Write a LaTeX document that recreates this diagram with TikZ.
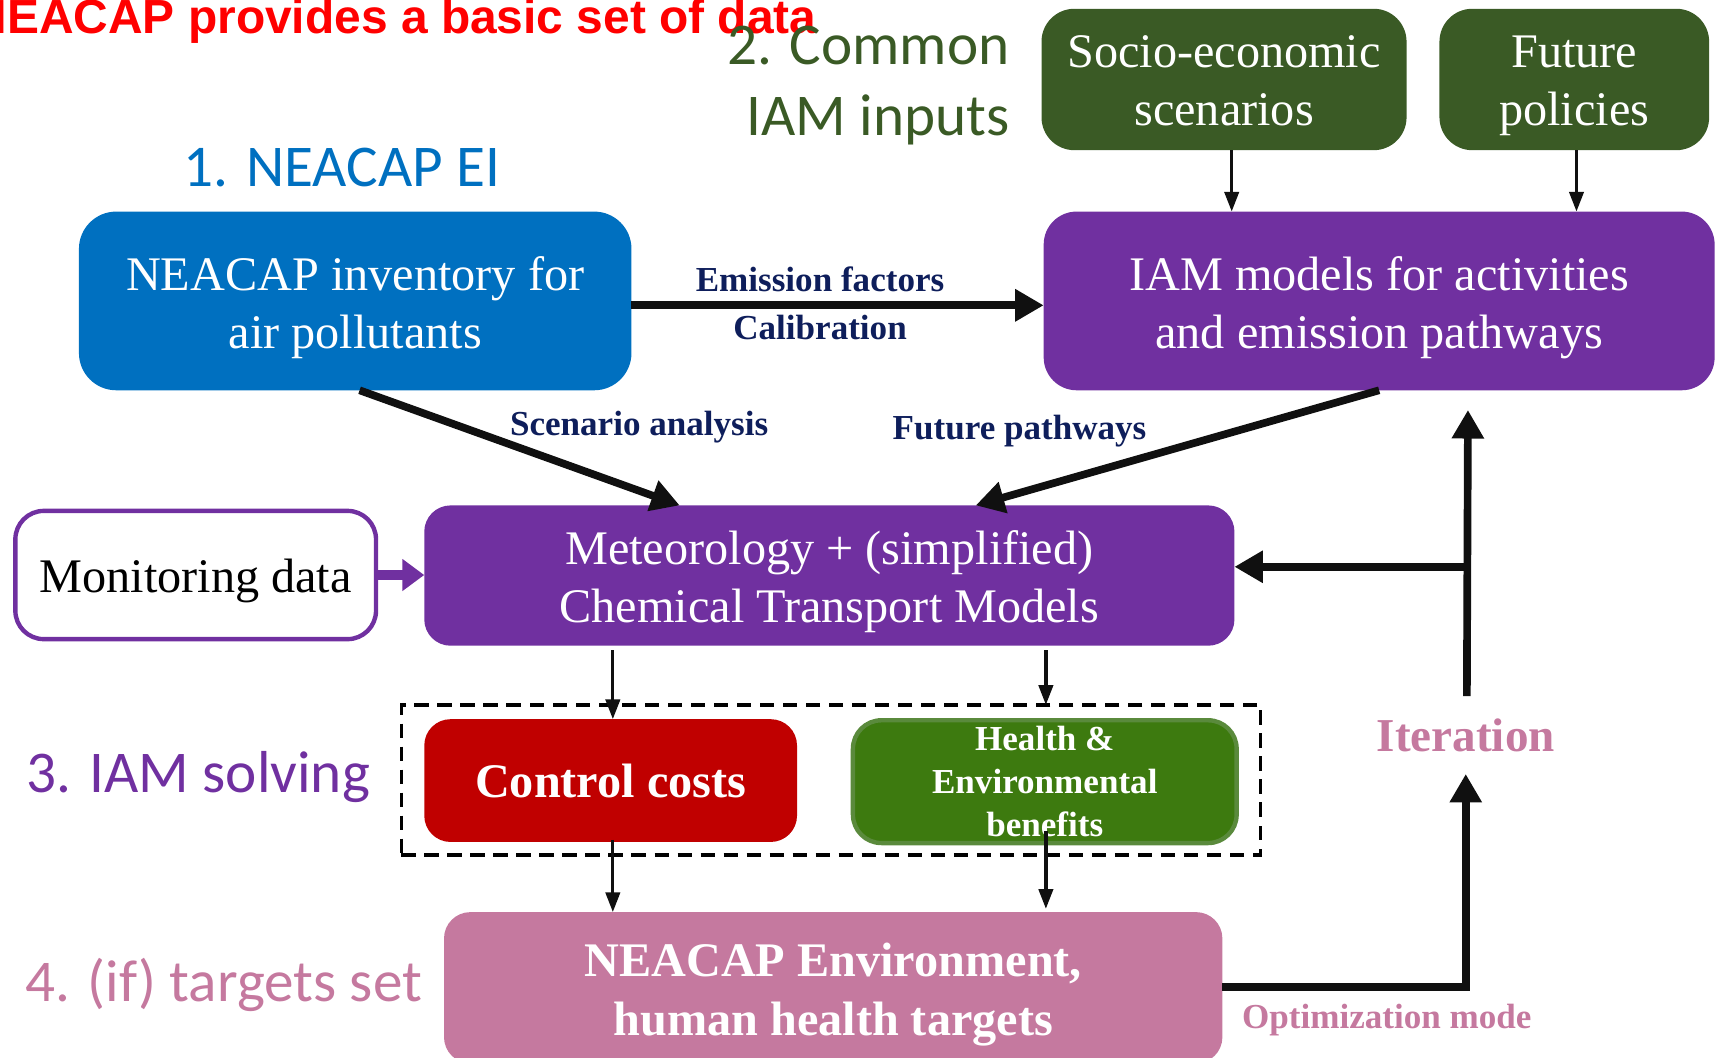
\documentclass[tikz,border=0pt]{standalone}
\usepackage{fontspec}
\setmainfont{Liberation Serif}
\newfontfamily\calfont{Carlito}
\newfontfamily\arialfont{Liberation Sans}
\usetikzlibrary{arrows.meta,calc}
\definecolor{iblue}{HTML}{0070C0}
\definecolor{ipurple}{HTML}{7030A0}
\definecolor{dgreen}{HTML}{3A5A25}
\definecolor{cred}{HTML}{C00000}
\definecolor{hgreen}{HTML}{3D7A0F}
\definecolor{hborder}{HTML}{5A8A3C}
\definecolor{ipink}{HTML}{C5799F}
\definecolor{navy}{HTML}{0E1E5B}
\definecolor{arrowblack}{HTML}{101010}
% box text set a little below the geometric centre of its box
\newcommand\lowtext[2][6pt]{\raisebox{-#1}[\height][\depth]{%
  \begin{tabular}{@{}c@{}}#2\end{tabular}}}
\begin{document}
\begin{tikzpicture}[x=1pt,y=-1pt,
  box/.style={fill=#1, rounded corners=26pt, inner sep=0pt, outer sep=0pt,
    align=center, text=white, font=\fontsize{44}{53}\selectfont},
  boldlabel/.style={text=navy, align=center, inner sep=0pt,
    font=\bfseries\fontsize{32}{44}\selectfont},
  steplabel/.style={inner sep=0pt, font=\calfont\fontsize{54}{65}\selectfont},
  bigarrow/.style={draw=arrowblack, line width=7pt,
    -{Triangle[length=26pt,width=28pt]}},
  smallarrow/.style={draw=arrowblack, line width=3pt,
    -{Triangle[length=18pt,width=13pt]}}]
\useasboundingbox (0,0) rectangle (1568,965);
\clip (0,0) rectangle (1568,965);

% headline
\node[anchor=base east, inner sep=0pt, text=red,
  font=\arialfont\bfseries\fontsize{43.7}{50}\selectfont] (title) at (745,31)
  {NEACAP provides a basic set of data};

% step labels
\node[steplabel, text=iblue] (s1) at (312,153) {1. NEACAP EI};
\node[steplabel, text=dgreen, align=right, anchor=east] (s2) at (921,78)
  {2. Common\\IAM inputs};
\node[steplabel, text=ipurple] (s3) at (181,709) {3. IAM solving};
\node[steplabel, text=ipink] (s4) at (204,898) {4. (if) targets set};

% boxes
\node[box=iblue, rounded corners=34pt, minimum width=504pt, minimum height=163pt]
  (inv) at (324,274.5) {\lowtext{NEACAP inventory for\\air pollutants}};
\node[box=ipurple, rounded corners=30pt, minimum width=612pt, minimum height=163pt]
  (iam) at (1258,274.5) {\lowtext{IAM models for activities\\and emission pathways}};
\node[box=dgreen, rounded corners=30pt, minimum width=333pt, minimum height=129pt]
  (socio) at (1116.5,72.5) {\lowtext[5pt]{Socio-economic\\scenarios}};
\node[box=dgreen, rounded corners=30pt, minimum width=246pt, minimum height=129pt]
  (fut) at (1436,72.5) {\lowtext[5pt]{Future\\policies}};
\node[box=white, draw=ipurple, line width=4pt, text=black, rounded corners=26pt,
  minimum width=329pt, minimum height=117pt]
  (mon) at (178.5,524.5) {\lowtext[5pt]{Monitoring data}};
\node[box=ipurple, rounded corners=24pt, minimum width=739pt, minimum height=128pt]
  (met) at (756.5,525) {\lowtext{Meteorology + (simplified)\\Chemical Transport Models}};

\node[draw=black, dashed, line width=3pt, dash pattern=on 13pt off 8pt,
  inner sep=0pt, outer sep=0pt, minimum width=784pt, minimum height=137pt]
  (grp) at (758,711.5) {};
\node[box=cred, rounded corners=24pt, minimum width=340pt, minimum height=112pt,
  font=\bfseries\fontsize{44}{53}\selectfont]
  (ctrl) at (557,712) {Control costs};
\node[box=hgreen, draw=hborder, line width=4pt, rounded corners=26pt,
  minimum width=350pt, minimum height=112pt,
  font=\bfseries\fontsize{32}{39.5}\selectfont]
  (hlth) at (953,713) {Health \&\\Environmental\\benefits};
\node[box=ipink, rounded corners=24pt, minimum width=710pt, minimum height=138pt,
  font=\bfseries\fontsize{44}{53}\selectfont]
  (env) at (760,901) {\lowtext{NEACAP Environment,\\human health targets}};

% connector labels
\node[boldlabel] (ef) at (748,255) {Emission factors};
\node[boldlabel] (cal) at (748,299) {Calibration};
\node[boldlabel] (scen) at (583,390) {Scenario analysis};
\node[boldlabel] (fpath) at (930,393) {Future pathways};
\node[inner sep=0pt, text=ipink, font=\bfseries\fontsize{32}{40}\selectfont]
  (opt) at (1265,930) {Optimization mode};
\node[inner sep=0pt, outer sep=0pt, minimum height=71pt, text=ipink,
  font=\bfseries\fontsize{43}{50}\selectfont]
  (iter) at (1337,670.5) {Iteration};

% connectors
\draw[bigarrow] ($(inv.east)+(0,4)$) -- ($(iam.west)+(0,4)$);
\draw[bigarrow] ([xshift=4pt]inv.south) -- ([xshift=233pt]met.north west);
\draw[bigarrow] (iam.south) -- ([xshift=503pt]met.north west);
\draw[smallarrow] ([xshift=7pt]socio.south) -- ([xshift=7pt]socio.south |- iam.north);
\draw[smallarrow] ([xshift=2pt]fut.south) -- ([xshift=2pt]fut.south |- iam.north);
\draw[draw=ipurple, line width=9pt, -{Triangle[length=20pt,width=28pt]}]
  (mon.east) -- (met.west |- mon.east);
\draw[smallarrow] ($(met.south -| ctrl.north)+(2,4)$) -- ($(ctrl.north)+(2,0)$);
\draw[smallarrow] ($(met.south -| hlth.north)+(1,4)$) -- ($(grp.north -| hlth.north)+(1,0)$);
\draw[smallarrow] ($(ctrl.south)+(2,-2)$) -- ($(ctrl.south |- env.north)+(2,0)$);
\draw[smallarrow] ($(hlth.south)+(1,-11)$) -- ($(hlth.south |- env.north)+(1,-3)$);
\draw[bigarrow] ($(env.east)+(0,-1)$) -| (iter.south);
\draw[bigarrow] ($(iter.north)+(1,0)$) -- ($(iter.north |- iam.south)+(2,18)$);
\draw[bigarrow] ($(iter.north |- met.east)+(4,-8)$) -- ($(met.east)+(0,-8)$);
\end{tikzpicture}
\end{document}
